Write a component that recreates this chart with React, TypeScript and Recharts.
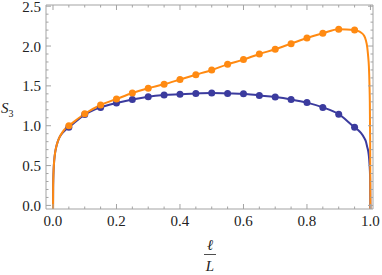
import { ComposedChart, Line, Scatter, XAxis, YAxis } from 'recharts'

const ORANGE = '#ff8a12'
const BLUE = '#3b3b9e'
const FRAME = '#a3a3a3'
const FONT = 'Liberation Serif'

// sample points (dots)
const dotX = [0.05, 0.1, 0.15, 0.2, 0.25, 0.3, 0.35, 0.4, 0.45, 0.5, 0.55, 0.6, 0.65, 0.7, 0.75, 0.8, 0.85, 0.9, 0.95]
const orangeDots = [1.0, 1.15, 1.26, 1.335, 1.41, 1.47, 1.52, 1.58, 1.64, 1.7, 1.77, 1.83, 1.9, 1.96, 2.03, 2.1, 2.16, 2.21, 2.2]
const blueDots = [0.98, 1.14, 1.23, 1.285, 1.33, 1.365, 1.385, 1.395, 1.405, 1.41, 1.405, 1.4, 1.38, 1.36, 1.33, 1.29, 1.23, 1.145, 0.98]

// continuous curves near the edges
const leftEdgeX = [0, 0.0005, 0.001, 0.002, 0.004, 0.007, 0.01, 0.015, 0.02, 0.03, 0.04]
const orangeLeft = [-0.2, 0.22, 0.33, 0.45, 0.57, 0.67, 0.73, 0.8, 0.85, 0.92, 0.97]
const blueLeft = [-0.2, 0.22, 0.33, 0.45, 0.57, 0.67, 0.73, 0.8, 0.85, 0.91, 0.95]
const rightEdgeX = [0.96, 0.97, 0.98, 0.985, 0.99, 0.993, 0.995, 0.997, 0.998, 0.999, 1.0]
const orangeRight = [2.19, 2.17, 2.13, 2.08, 1.98, 1.86, 1.75, 1.5, 1.3, 0.8, -0.2]
const blueRight = [0.95, 0.91, 0.85, 0.81, 0.73, 0.68, 0.62, 0.52, 0.45, 0.33, -0.2]

const xTicks = [0, 0.05, 0.1, 0.15, 0.2, 0.25, 0.3, 0.35, 0.4, 0.45, 0.5, 0.55, 0.6, 0.65, 0.7, 0.75, 0.8, 0.85, 0.9, 0.95, 1.0]
const yTicks = [0, 0.1, 0.2, 0.3, 0.4, 0.5, 0.6, 0.7, 0.8, 0.9, 1.0, 1.1, 1.2, 1.3, 1.4, 1.5, 1.6, 1.7, 1.8, 1.9, 2.0, 2.1, 2.2, 2.3, 2.4, 2.5]

const toPts = (xs: number[], ys: number[]) => xs.map((x, i) => ({ x, y: ys[i] }))

const orangeCurve = [...toPts(leftEdgeX, orangeLeft), ...toPts(dotX, orangeDots), ...toPts(rightEdgeX, orangeRight)]
const blueCurve = [...toPts(leftEdgeX, blueLeft), ...toPts(dotX, blueDots), ...toPts(rightEdgeX, blueRight)]

const isMajor = (v: number, step: number) => Math.abs(v / step - Math.round(v / step)) < 1e-6

function BottomTick({ x, y, payload }: any) {
  const major = isMajor(payload.value, 0.2)
  return (
    <g>
      <line x1={x} x2={x} y1={y} y2={y - (major ? 5 : 2.5)} stroke={FRAME} />
      {major && (
        <text x={x} y={y + 17} textAnchor="middle" fontFamily={FONT} fontSize={15} fill="#222">
          {payload.value.toFixed(1)}
        </text>
      )}
    </g>
  )
}

function TopTick({ x, y, payload }: any) {
  const major = isMajor(payload.value, 0.2)
  return <line x1={x} x2={x} y1={y} y2={y + (major ? 5 : 2.5)} stroke={FRAME} />
}

function LeftTick({ x, y, payload }: any) {
  const major = isMajor(payload.value, 0.5)
  return (
    <g>
      <line x1={x} x2={x + (major ? 5 : 2.5)} y1={y} y2={y} stroke={FRAME} />
      {major && (
        <text x={x - 5} y={y + 5.5} textAnchor="end" fontFamily={FONT} fontSize={15} fill="#222">
          {payload.value.toFixed(1)}
        </text>
      )}
    </g>
  )
}

function RightTick({ x, y, payload }: any) {
  const major = isMajor(payload.value, 0.5)
  return <line x1={x} x2={x - (major ? 5 : 2.5)} y1={y} y2={y} stroke={FRAME} />
}

function XLabel() {
  return (
    <g>
      <text x={210} y={250} textAnchor="middle" fontFamily={FONT} fontSize={15} fontStyle="italic" fill="#222">ℓ</text>
      <line x1={204} x2={216} y1={254.5} y2={254.5} stroke="#222" strokeWidth={0.8} />
      <text x={210} y={271} textAnchor="middle" fontFamily={FONT} fontSize={15} fontStyle="italic" fill="#222">L</text>
    </g>
  )
}

function YLabel() {
  return (
    <text x={1} y={113} fontFamily={FONT} fontSize={15} fill="#222">
      <tspan fontStyle="italic">S</tspan>
      <tspan fontSize={10} dy={3.5}>3</tspan>
    </text>
  )
}

const Dot = (color: string) => (p: any) => <circle cx={p.cx} cy={p.cy} r={3.5} fill={color} />

export default function App() {
  return (
    <div style={{ position: 'absolute', left: 0, top: 0 }}>
      <ComposedChart width={382} height={275} margin={{ top: 4, right: 8, bottom: 65, left: 45 }}>
        <XAxis
          type="number"
          dataKey="x"
          domain={[-0.022, 1.008]}
          ticks={xTicks}
          interval={0}
          allowDataOverflow
          height={1}
          tickSize={0}
          tickMargin={0}
          tickLine={false}
          axisLine={{ stroke: FRAME }}
          tick={<BottomTick />}
          label={<XLabel />}
        />
        <XAxis
          xAxisId="top"
          orientation="top"
          type="number"
          dataKey="x"
          domain={[-0.022, 1.008]}
          ticks={xTicks}
          interval={0}
          allowDataOverflow
          height={1}
          tickSize={0}
          tickMargin={0}
          tickLine={false}
          axisLine={{ stroke: FRAME }}
          tick={<TopTick />}
        />
        <YAxis
          type="number"
          domain={[-0.045, 2.515]}
          ticks={yTicks}
          interval={0}
          allowDataOverflow
          width={1}
          tickSize={0}
          tickMargin={0}
          tickLine={false}
          axisLine={{ stroke: FRAME }}
          tick={<LeftTick />}
          label={<YLabel />}
        />
        <YAxis
          yAxisId="right"
          orientation="right"
          type="number"
          domain={[-0.045, 2.515]}
          ticks={yTicks}
          interval={0}
          allowDataOverflow
          width={1}
          tickSize={0}
          tickMargin={0}
          tickLine={false}
          axisLine={{ stroke: FRAME }}
          tick={<RightTick />}
        />
        <Line data={blueCurve} dataKey="y" type="monotone" stroke={BLUE} strokeWidth={2} dot={false} isAnimationActive={false} />
        <Scatter data={toPts(dotX, blueDots)} dataKey="y" shape={Dot(BLUE)} isAnimationActive={false} />
        <Line data={orangeCurve} dataKey="y" type="monotone" stroke={ORANGE} strokeWidth={2} dot={false} isAnimationActive={false} />
        <Scatter data={toPts(dotX, orangeDots)} dataKey="y" shape={Dot(ORANGE)} isAnimationActive={false} />
      </ComposedChart>
    </div>
  )
}
